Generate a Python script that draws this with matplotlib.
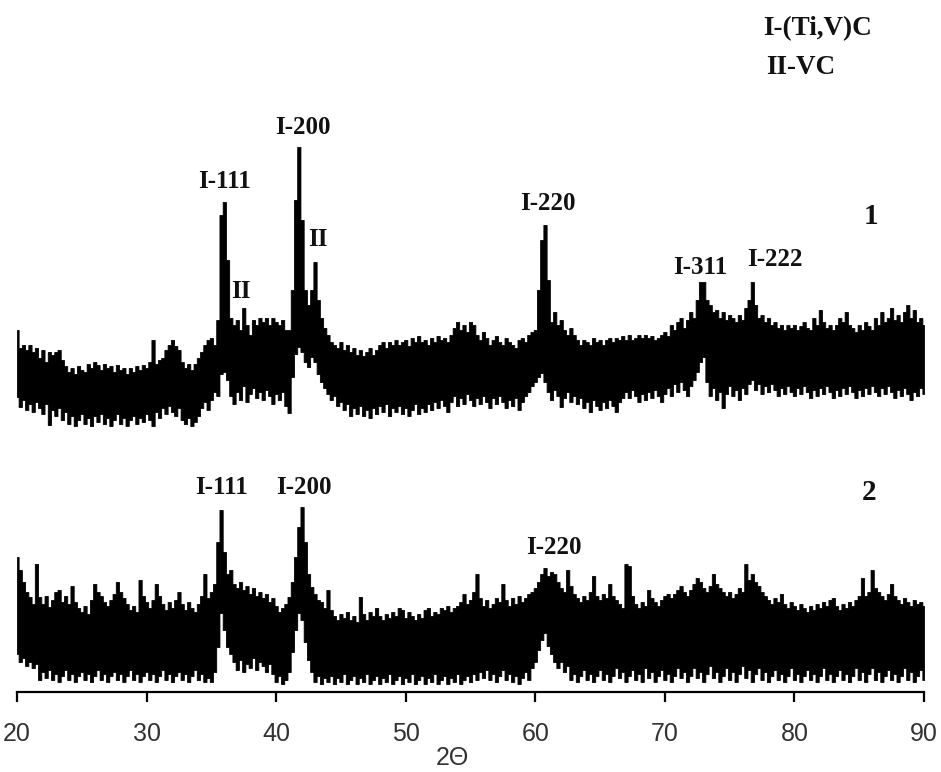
import numpy as np
import matplotlib
matplotlib.use("Agg")
import matplotlib.pyplot as plt

# 2-theta sampling grid (degrees)
two_theta = np.arange(20.0, 90.001, 0.25)

# Pattern 1 : upper / lower envelope of the noisy trace (arbitrary units)
p1_hi = [362, 344, 347, 342, 347, 340, 344, 334, 342, 330, 340, 337, 340, 342, 332, 326,
         320, 324, 318, 326, 322, 320, 328, 324, 330, 327, 322, 328, 324, 326, 320, 327,
         322, 324, 318, 324, 320, 326, 322, 327, 324, 330, 352, 328, 332, 334, 342, 347,
         352, 346, 342, 330, 324, 328, 322, 328, 334, 340, 347, 352, 354, 347, 372, 477,
         490, 432, 374, 367, 372, 362, 384, 367, 357, 372, 367, 374, 370, 374, 367, 374,
         370, 367, 372, 362, 362, 402, 492, 545, 472, 402, 387, 402, 430, 392, 374, 364,
         357, 350, 347, 344, 350, 342, 347, 340, 344, 337, 342, 336, 340, 344, 337, 342,
         347, 350, 344, 350, 347, 352, 347, 350, 352, 346, 354, 350, 356, 350, 352, 347,
         354, 350, 356, 352, 354, 350, 357, 364, 370, 362, 367, 360, 370, 367, 357, 352,
         360, 354, 347, 352, 356, 350, 347, 354, 350, 347, 344, 352, 354, 350, 357, 360,
         362, 402, 452, 467, 412, 370, 380, 367, 372, 362, 357, 364, 357, 352, 347, 352,
         350, 347, 354, 350, 352, 347, 352, 354, 350, 354, 352, 356, 352, 357, 352, 354,
         357, 354, 357, 354, 356, 352, 354, 357, 360, 356, 367, 362, 370, 374, 364, 372,
         380, 374, 392, 410, 410, 392, 387, 380, 382, 374, 380, 372, 377, 374, 370, 377,
         372, 384, 392, 410, 387, 374, 377, 370, 374, 367, 370, 364, 367, 362, 367, 364,
         367, 362, 366, 370, 364, 362, 374, 367, 382, 370, 364, 367, 362, 367, 374, 370,
         380, 367, 364, 360, 367, 362, 370, 366, 362, 374, 367, 380, 370, 374, 384, 372,
         377, 370, 380, 387, 374, 382, 370, 374, 367]
p1_lo = [295, 285, 292, 282, 288, 280, 290, 284, 278, 288, 267, 282, 276, 284, 272, 280,
         268, 276, 266, 272, 278, 268, 274, 266, 276, 270, 278, 268, 274, 266, 272, 278,
         268, 274, 266, 272, 276, 268, 274, 270, 278, 272, 266, 280, 274, 284, 278, 286,
         280, 276, 284, 272, 268, 274, 266, 270, 276, 284, 290, 282, 292, 300, 296, 318,
         320, 312, 296, 288, 300, 292, 306, 290, 298, 304, 294, 300, 292, 302, 296, 288,
         298, 292, 300, 286, 279, 315, 338, 345, 340, 330, 325, 335, 330, 318, 310, 304,
         298, 292, 296, 286, 290, 282, 288, 276, 284, 278, 286, 276, 282, 274, 284, 278,
         286, 280, 288, 276, 284, 280, 286, 278, 284, 276, 282, 288, 278, 284, 280, 288,
         282, 290, 284, 292, 286, 280, 290, 296, 286, 294, 288, 298, 292, 286, 294, 288,
         296, 290, 284, 294, 288, 296, 290, 284, 292, 286, 294, 282, 290, 296, 300, 306,
         310, 315, 319, 310, 300, 292, 302, 296, 285, 294, 300, 290, 296, 288, 294, 284,
         290, 280, 292, 286, 282, 290, 284, 292, 286, 280, 290, 294, 300, 294, 302, 296,
         290, 298, 292, 300, 294, 302, 296, 290, 298, 304, 296, 308, 300, 310, 302, 296,
         306, 312, 320, 330, 335, 310, 296, 304, 292, 300, 284, 298, 306, 296, 302, 292,
         304, 298, 308, 312, 302, 308, 298, 306, 300, 308, 302, 296, 304, 298, 306, 300,
         296, 304, 298, 306, 300, 294, 302, 296, 304, 298, 306, 300, 294, 302, 296, 304,
         298, 306, 300, 294, 302, 296, 304, 298, 306, 300, 296, 304, 298, 306, 300, 294,
         302, 296, 304, 298, 292, 300, 296, 304, 298]

# Pattern 2 : upper / lower envelope
p2_hi = [135, 122, 110, 100, 95, 88, 128, 95, 88, 96, 85, 92, 100, 102, 90, 96,
         88, 106, 90, 84, 80, 86, 78, 92, 108, 100, 96, 90, 86, 92, 98, 110,
         100, 94, 88, 82, 86, 80, 112, 96, 90, 84, 92, 108, 96, 88, 82, 90,
         84, 92, 100, 88, 82, 90, 84, 80, 88, 96, 118, 94, 100, 108, 150, 182,
         140, 118, 122, 108, 104, 110, 102, 106, 98, 104, 96, 100, 94, 98, 90, 94,
         86, 80, 84, 88, 95, 110, 135, 165, 185, 150, 118, 105, 98, 92, 90, 84,
         102, 82, 76, 72, 78, 74, 80, 72, 76, 70, 95, 78, 72, 80, 76, 84,
         76, 72, 78, 74, 80, 76, 84, 82, 74, 80, 76, 72, 78, 74, 82, 84,
         76, 80, 78, 84, 82, 86, 80, 84, 86, 90, 98, 88, 92, 100, 118, 94,
         86, 92, 84, 88, 94, 90, 108, 92, 86, 94, 88, 96, 90, 94, 98, 100,
         104, 110, 118, 124, 116, 120, 118, 110, 104, 100, 122, 106, 98, 94, 90, 96,
         92, 100, 116, 96, 92, 98, 94, 108, 96, 92, 88, 84, 128, 126, 96, 88,
         84, 90, 86, 102, 94, 90, 86, 92, 96, 98, 94, 98, 102, 106, 100, 96,
         102, 108, 114, 110, 104, 100, 106, 118, 108, 104, 100, 96, 100, 94, 98, 104,
         100, 128, 112, 118, 110, 106, 100, 96, 92, 88, 94, 90, 98, 88, 84, 90,
         86, 82, 88, 84, 80, 86, 82, 88, 84, 90, 86, 92, 94, 86, 82, 88,
         84, 90, 86, 92, 96, 114, 96, 100, 122, 104, 100, 96, 92, 98, 108, 96,
         92, 88, 94, 90, 86, 92, 88, 90, 86]
p2_lo = [38, 30, 34, 26, 30, 24, 28, 12, 20, 14, 22, 12, 18, 10, 16, 22,
         12, 18, 10, 16, 20, 12, 18, 10, 16, 22, 12, 18, 10, 16, 20, 12,
         18, 10, 16, 22, 12, 18, 10, 16, 20, 12, 18, 10, 16, 22, 12, 18,
         10, 16, 20, 12, 18, 10, 16, 22, 12, 18, 10, 14, 10, 20, 45, 79,
         62, 45, 38, 30, 22, 32, 20, 28, 24, 34, 22, 30, 26, 20, 28, 18,
         10, 16, 8, 12, 20, 40, 62, 79, 72, 50, 32, 20, 10, 16, 8, 14,
         10, 16, 8, 14, 10, 18, 8, 12, 16, 8, 14, 10, 18, 8, 12, 16,
         8, 14, 10, 18, 8, 12, 16, 8, 14, 10, 18, 8, 12, 16, 8, 14,
         10, 18, 8, 12, 16, 8, 14, 10, 18, 8, 12, 16, 10, 18, 12, 20,
         14, 22, 12, 18, 10, 16, 22, 12, 18, 10, 16, 8, 14, 20, 12, 24,
         30, 42, 52, 59, 46, 38, 30, 24, 30, 20, 26, 12, 18, 10, 16, 22,
         12, 18, 10, 16, 22, 12, 18, 10, 16, 24, 14, 20, 10, 16, 22, 12,
         18, 10, 24, 14, 20, 10, 16, 22, 12, 18, 10, 16, 24, 14, 20, 10,
         16, 24, 14, 20, 10, 18, 26, 14, 20, 10, 16, 24, 12, 20, 10, 18,
         26, 14, 22, 10, 18, 24, 12, 20, 10, 16, 22, 12, 18, 10, 16, 24,
         12, 18, 10, 16, 22, 12, 18, 10, 16, 24, 12, 18, 10, 16, 22, 12,
         18, 10, 16, 24, 12, 20, 10, 18, 24, 12, 20, 10, 16, 22, 12, 18,
         10, 16, 24, 12, 20, 10, 16, 22, 12]

# Peak labels: (text, 2theta, intensity)
peak_labels = [
    ("I-111", 36.05, 511), ("II", 37.28, 401), ("I-200", 42.07, 565),
    ("II", 43.23, 452), ("I-220", 60.97, 488), ("I-311", 72.70, 425),
    ("I-222", 78.49, 432),
    ("I-111", 35.82, 205), ("I-200", 42.15, 205), ("I-220", 61.44, 144),
]
curve_labels = [("1", 85.90, 475), ("2", 85.74, 199)]
legend_lines = [("I-(Ti,V)C", 77.56, 663), ("II-VC", 77.79, 624)]
x_ticks = [20, 30, 40, 50, 60, 70, 80, 90]

fig = plt.figure(figsize=(9.41, 7.72), dpi=100)
ax = fig.add_axes([17 / 941, 80 / 772, 907 / 941, 692 / 772])

for hi, lo in [(p1_hi, p1_lo), (p2_hi, p2_lo)]:
    ax.fill_between(two_theta, lo, hi, step="mid", color="black", linewidth=0.6,
                    edgecolor="black")

serif = ["Liberation Serif", "DejaVu Serif"]
for txt, x, y in peak_labels:
    ax.text(x, y, txt, ha="center", va="center", fontsize=18, fontweight="bold",
            family=serif, color="#111111")
for txt, x, y in curve_labels:
    ax.text(x, y, txt, ha="center", va="center", fontsize=21, fontweight="bold",
            family=serif, color="#111111")
for txt, x, y in legend_lines:
    ax.text(x, y, txt, ha="left", va="center", fontsize=19.5, fontweight="bold",
            family=serif, color="#111111")

ax.set_xlim(20, 90)
ax.set_ylim(0, 692)
for s in ["left", "right", "top"]:
    ax.spines[s].set_visible(False)
ax.spines["bottom"].set_linewidth(1.6)
ax.set_yticks([])
ax.set_xticks(x_ticks)
ax.set_xticklabels([str(t) for t in x_ticks], fontsize=18, color="#333333",
                   family=["Liberation Sans", "DejaVu Sans"])
ax.tick_params(axis="x", direction="out", length=7.5, width=1.6, pad=14)

fig.text(452 / 941, 1 - 746 / 772, "2Θ", ha="center", va="top", fontsize=18,
         color="#333333", family=["Liberation Sans", "DejaVu Sans"])

fig.savefig("out.png", dpi=100)
